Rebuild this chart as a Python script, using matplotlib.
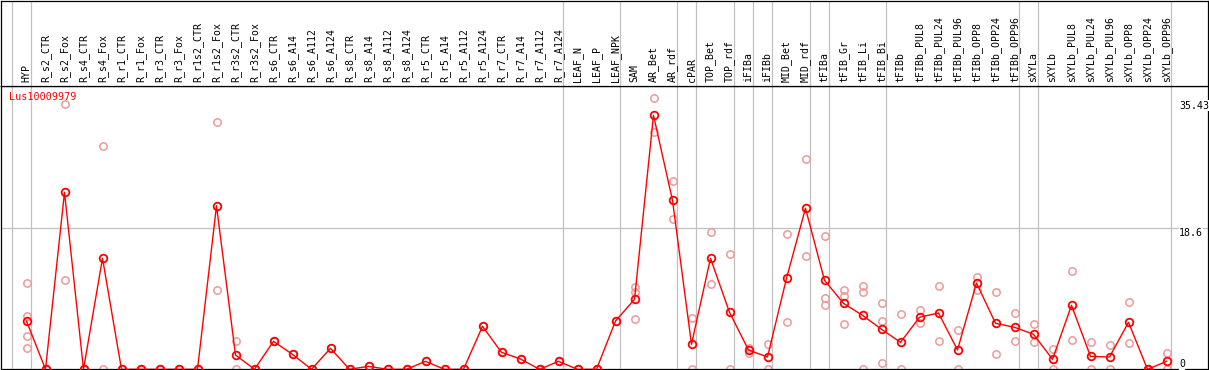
import numpy as np
import matplotlib
matplotlib.use("Agg")
import matplotlib.pyplot as plt

# sample columns (left to right)
samples = ["HYP", "R_s2_CTR", "R_s2_Fox", "R_s4_CTR", "R_s4_Fox", "R_r1_CTR", "R_r1_Fox",
           "R_r3_CTR", "R_r3_Fox", "R_r1s2_CTR", "R_r1s2_Fox", "R_r3s2_CTR", "R_r3s2_Fox",
           "R_s6_CTR", "R_s6_A14", "R_s6_A112", "R_s6_A124", "R_s8_CTR", "R_s8_A14",
           "R_s8_A112", "R_s8_A124", "R_r5_CTR", "R_r5_A14", "R_r5_A112", "R_r5_A124",
           "R_r7_CTR", "R_r7_A14", "R_r7_A112", "R_r7_A124", "LEAF_N", "LEAF_P", "LEAF_NPK",
           "SAM", "AR_Bet", "AR_rdf", "cPAR", "TOP_Bet", "TOP_rdf", "iFIBa", "iFIBb",
           "MID_Bet", "MID_rdf", "tFIBa", "tFIB_Gr", "tFIB_Li", "tFIB_Bi", "tFIBb",
           "tFIBb_PUL8", "tFIBb_PUL24", "tFIBb_PUL96", "tFIBb_OPP8", "tFIBb_OPP24",
           "tFIBb_OPP96", "sXYLa", "sXYLb", "sXYLb_PUL8", "sXYLb_PUL24", "sXYLb_PUL96",
           "sXYLb_OPP8", "sXYLb_OPP24", "sXYLb_OPP96"]

# mean expression per sample
means = [6.37, 0, 23.35, 0, 14.64, 0, 0, 0, 0, 0, 21.58, 1.89, 0, 3.69, 1.97, 0, 2.77, 0,
         0.39, 0, 0, 1.05, 0, 0, 5.67, 2.24, 1.36, 0, 1.05, 0, 0, 6.37, 9.23, 33.5, 22.29,
         3.3, 14.64, 7.52, 2.55, 1.62, 12.0, 21.24, 11.74, 8.7, 7.12, 5.28, 3.56, 6.86,
         7.43, 2.55, 11.38, 6.07, 5.54, 4.62, 1.32, 8.44, 1.71, 1.62, 6.2, 0, 1.05]

# individual replicates per sample
replicates = [[11.4, 7.03, 4.35, 2.77], [0, 0], [34.95, 11.74], [0, 0], [29.4, 0],
              [0, 0], [0, 0], [0, 0], [0, 0], [0, 0], [32.66, 10.5], [3.69, 0], [0, 0],
              [3.69], [1.97], [0, 0], [2.77], [0, 0], [0.39], [0, 0], [0, 0], [1.05],
              [0, 0], [0, 0], [5.67], [2.24], [1.36], [0, 0], [1.05], [0, 0], [0, 0],
              [6.37], [10.9, 10.24, 6.63], [35.75, 31.26], [24.8, 19.79], [6.73, 0],
              [18.07, 11.21], [15.17, 0], [2.77, 2.11], [3.3, 0], [17.8, 6.2],
              [27.7, 14.9], [17.54, 9.37, 8.48], [10.42, 9.71, 5.98], [10.99, 10.24, 0],
              [8.7, 6.33, 0.79], [7.25, 0], [7.78, 6.07], [10.99, 3.69], [5.14, 0],
              [12.13, 10.42], [10.16, 1.98], [7.39, 3.69], [5.98, 3.56], [2.68, 0],
              [12.93, 3.83], [3.56, 0], [3.17, 0], [8.84, 3.43], [0, 0], [2.11, 0]]

# group separators: a line is drawn just after these columns
separators = [-1, 0, 28, 31, 34, 35, 37, 38, 39, 41, 42, 45, 52, 53, 60]
yticks = [0, 18.6, 35.43]
gene = "Lus10009979"

W, H = 1209, 370
fig = plt.figure(figsize=(W / 100, H / 100), dpi=100)

# pixel layout: column i sits at 26.5 + 19*i px
x0, step = 26.5, 19.0
left_px, right_px = 0.5, 1208.3
top_px, split_px, bottom_px = 0.5, 86.0, 369.3
xlim = ((left_px - x0) / step, (right_px - x0) / step)
pxs_per_unit = (bottom_px - 228.3) / 18.6
ytop = (bottom_px - split_px) / pxs_per_unit

ax = fig.add_axes([left_px / W, (H - bottom_px) / H, (right_px - left_px) / W,
                   (bottom_px - split_px) / H])
head = fig.add_axes([left_px / W, (H - split_px) / H, (right_px - left_px) / W,
                     (split_px - top_px) / H])

grid_c = "#c0c0c0"
red = "#ff0000"
pale = "#ec9a9a"
mono = "DejaVu Sans Mono"

for a in (ax, head):
    a.set_xlim(*xlim)
    a.set_xticks([])
    a.set_yticks([])
    for s in a.spines.values():
        s.set_color("black")
        s.set_linewidth(0.9)
    for sep in separators:
        a.axvline(sep + 0.22, color=grid_c, lw=0.9, zorder=0)

head.set_ylim(0, split_px - top_px)
for i, name in enumerate(samples):
    head.text(i, 4, name, rotation=90, ha="center", va="bottom",
              fontsize=7.1, family=mono, color="black")

ax.set_ylim(0, ytop)
ax.axhline(yticks[1], color=grid_c, lw=0.9, zorder=0)

# replicate points
for i, reps in enumerate(replicates):
    ax.plot([i] * len(reps), reps, "o", ms=5.3, mfc="none", mec=pale, mew=1.1,
            zorder=2, clip_on=True)

# mean line
xs = np.arange(len(means))
ax.plot(xs, means, "-", color=red, lw=1.0, zorder=3)
ax.plot(xs, means, "o", ms=5.5, mfc="none", mec=red, mew=1.3, zorder=4)

# value labels on the right
tick_x = (1179 - left_px) / (right_px - left_px)
for v in yticks:
    ax.text(tick_x, v, f"{v:g}", transform=ax.get_yaxis_transform(),
            ha="left", va="bottom" if v == 0 else "top", fontsize=7.1, family=mono,
            color="black", bbox=dict(facecolor="white", edgecolor="none", pad=0.3),
            zorder=5)

ax.text(9 / (right_px - left_px), (bottom_px - 92) / (bottom_px - split_px), gene,
        transform=ax.transAxes, ha="left", va="top", fontsize=7.3, family=mono,
        color=red, zorder=5)

fig.savefig("out.png", dpi=100)
